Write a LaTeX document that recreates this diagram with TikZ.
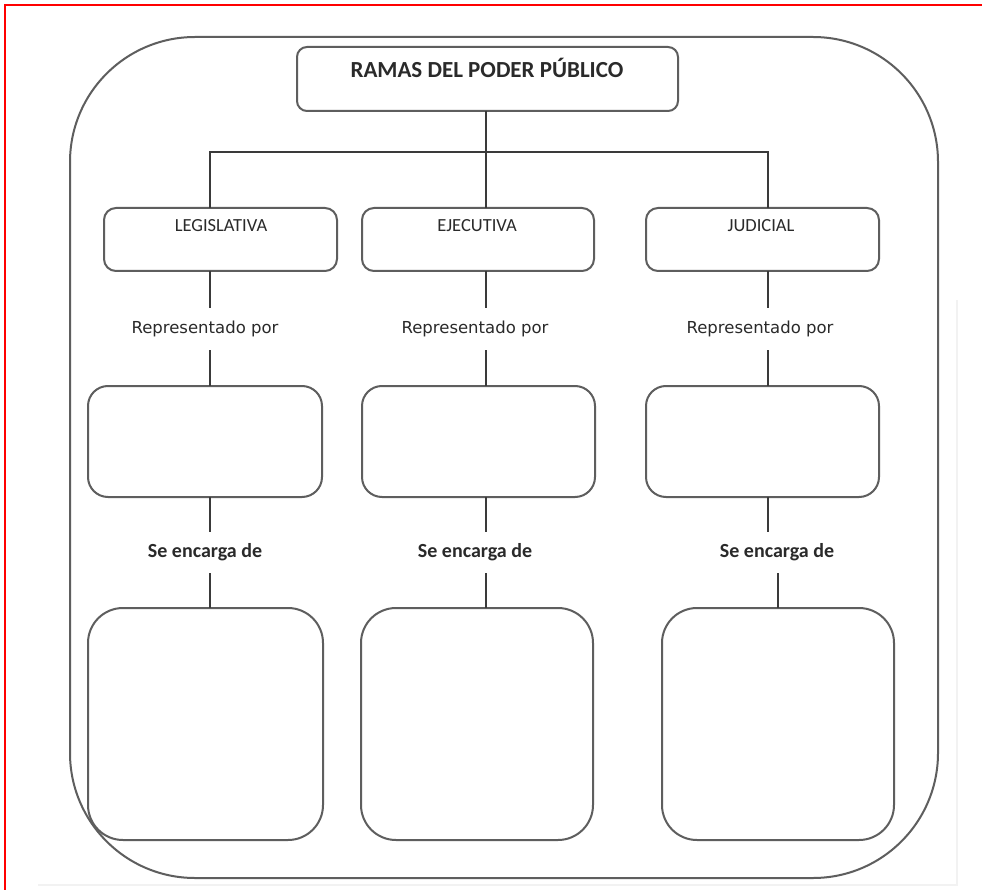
\documentclass[tikz,border=0pt]{standalone}
\usepackage{fontspec}
\setmainfont{Carlito}
\newfontfamily\dejavu{DejaVu Sans}
\definecolor{boxline}{HTML}{5E5E5E}
\definecolor{connline}{HTML}{3A3A3A}
\definecolor{txt}{HTML}{2A2A2A}
\begin{document}
\begin{tikzpicture}[x=1pt,y=-1pt,
  box/.style={draw=boxline, line width=2pt, rectangle, inner sep=0pt, outer sep=0pt},
  conn/.style={draw=connline, line width=2pt},
  heading/.style={font=\fontsize{23}{27}\selectfont\bfseries, text=txt, inner sep=0pt},
  branch/.style={font=\fontsize{18.5}{22}\selectfont, text=txt, inner sep=0pt},
  rep/.style={font=\dejavu\fontsize{16.5}{20}\selectfont, text=txt, inner sep=0pt, minimum height=42pt},
  duty/.style={font=\fontsize{20}{24}\selectfont\bfseries, text=txt, inner sep=0pt, minimum height=41pt}
]
\useasboundingbox (0,0) rectangle (982,890);
\fill[white] (0,0) rectangle (982,890);
% red frame (left and top)
\draw[red, line width=2pt] (4.7,890) -- (4.7,5) -- (982,5);
% faint shadow edge
\draw[gray!10, line width=1.5pt] (38,885) -- (957,885) -- (957,300);
% outer frame
\node[box, rounded corners=125pt, minimum width=868pt, minimum height=841pt] (frame) at (504,457.5) {};
% top box
\node[box, rounded corners=10pt, minimum width=381pt, minimum height=64pt] (top) at (487.5,79) {};
\node[heading] (toptxt) at (487,68) {RAMAS DEL PODER PÚBLICO};
% level 2
\node[box, rounded corners=12pt, minimum width=233pt, minimum height=63pt] (L2) at (220.5,239.5) {};
\node[box, rounded corners=12pt, minimum width=232pt, minimum height=63pt] (M2) at (478,239.5) {};
\node[box, rounded corners=12pt, minimum width=233pt, minimum height=63pt] (R2) at (762.5,239.5) {};
\node[branch] (L2txt) at (221,226) {LEGISLATIVA};
\node[branch] (M2txt) at (477,226) {EJECUTIVA};
\node[branch] (R2txt) at (761,226) {JUDICIAL};
% level 3
\node[box, rounded corners=20pt, minimum width=234pt, minimum height=111pt] (L3) at (205,441.5) {};
\node[box, rounded corners=20pt, minimum width=233pt, minimum height=111pt] (M3) at (478.5,441.5) {};
\node[box, rounded corners=20pt, minimum width=233pt, minimum height=111pt] (R3) at (762.5,441.5) {};
% level 4
\node[box, rounded corners=35pt, minimum width=235pt, minimum height=232pt] (L4) at (205.5,724) {};
\node[box, rounded corners=35pt, minimum width=232pt, minimum height=232pt] (M4) at (477,724) {};
\node[box, rounded corners=35pt, minimum width=232pt, minimum height=232pt] (R4) at (778,724) {};
% labels
\node[rep] (rL) at (205,329) {Representado por};
\node[rep] (rM) at (475,329) {Representado por};
\node[rep] (rR) at (760,329) {Representado por};
\node[duty] (sL) at (205,552.5) {Se encarga de};
\node[duty] (sM) at (475,552.5) {Se encarga de};
\node[duty] (sR) at (777,552.5) {Se encarga de};
% column coordinates
\coordinate (cL) at (210,0);
\coordinate (cM) at (485.5,0);
\coordinate (cR) at (768,0);
\coordinate (cR2) at (778,0);
\coordinate (bus) at (0,152);
% connectors
\draw[conn] (top.south -| cM) -- (bus -| cM);
\draw[conn] (L2.north -| cL) |- (bus -| cR) -- (R2.north -| cR);
\draw[conn] (bus -| cM) -- (M2.north -| cM);
\draw[conn] (L2.south -| cL) -- (rL.north -| cL);
\draw[conn] (M2.south -| cM) -- (rM.north -| cM);
\draw[conn] (R2.south -| cR) -- (rR.north -| cR);
\draw[conn] (rL.south -| cL) -- (L3.north -| cL);
\draw[conn] (rM.south -| cM) -- (M3.north -| cM);
\draw[conn] (rR.south -| cR) -- (R3.north -| cR);
\draw[conn] (L3.south -| cL) -- (sL.north -| cL);
\draw[conn] (M3.south -| cM) -- (sM.north -| cM);
\draw[conn] (R3.south -| cR) -- (sR.north -| cR);
\draw[conn] (sL.south -| cL) -- (L4.north -| cL);
\draw[conn] (sM.south -| cM) -- (M4.north -| cM);
\draw[conn] (sR.south -| cR2) -- (R4.north -| cR2);
\end{tikzpicture}
\end{document}
